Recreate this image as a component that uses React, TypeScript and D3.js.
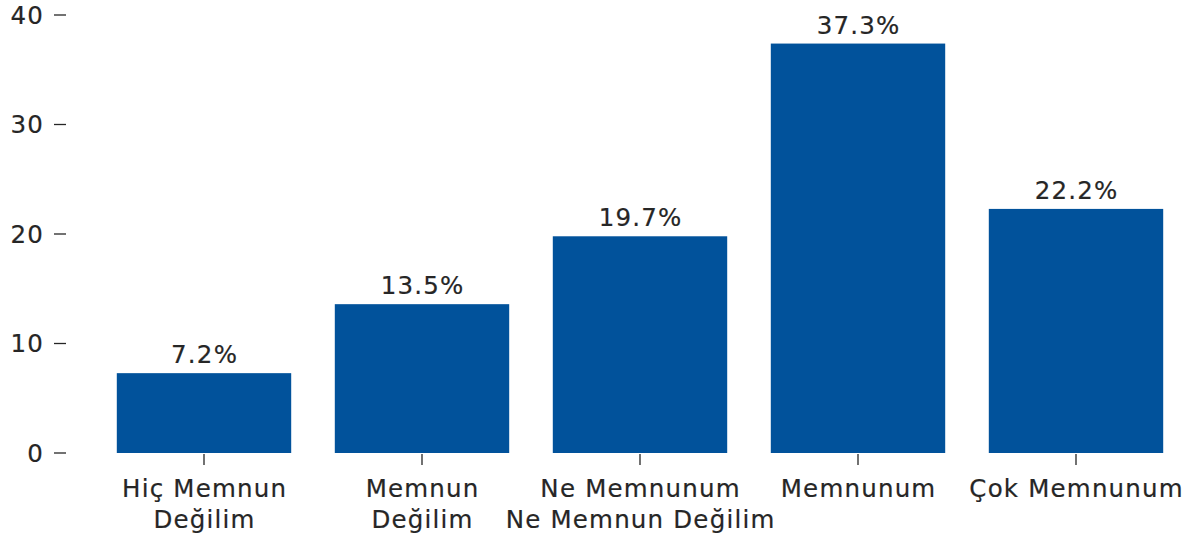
import React from "react";
import * as d3 from "d3";

const categories: string[][] = [
  ["Hiç Memnun", "Değilim"],
  ["Memnun", "Değilim"],
  ["Ne Memnunum", "Ne Memnun Değilim"],
  ["Memnunum"],
  ["Çok Memnunum"],
];
const values: number[] = [7.2, 13.5, 19.7, 37.3, 22.2];
const yTicks: number[] = [0, 10, 20, 30, 40];

const W = 1192;
const H = 541;
const FONT = "DejaVu Sans, sans-serif";
const TEXT = "#262626";
const BAR = "#01529B";
const LS = 1.2;
const FS = 24.5;

export default function App() {
  const keys = categories.map((c) => c.join(" "));
  const x = d3.scaleBand<string>().domain(keys).range([95, 1185]).paddingInner(0.2).paddingOuter(0.1);
  const y = d3.scaleLinear().domain([0, 40]).range([453, 15]);
  const axisX = 66;
  const textProps = { fontSize: FS, fill: TEXT, letterSpacing: LS, stroke: TEXT, strokeWidth: 0.2 };
  return (
    <svg width={W} height={H} style={{ position: "absolute", left: 0, top: 0 }} fontFamily={FONT}>
      <rect width={W} height={H} fill="#fff" />
      {yTicks.map((t) => (
        <g key={t}>
          <line x1={axisX - 12} x2={axisX} y1={y(t)} y2={y(t)} stroke={TEXT} strokeWidth={1.3} />
          <text x={axisX - 22} y={y(t)} dy="0.36em" textAnchor="end" {...textProps}>
            {t}
          </text>
        </g>
      ))}
      {values.map((v, i) => {
        const k = keys[i];
        const x0 = x(k)!;
        const cx = x0 + x.bandwidth() / 2;
        return (
          <g key={k}>
            <rect x={x0} y={y(v) - 1} width={x.bandwidth()} height={y(0) - y(v) + 1} fill={BAR} />
            <text x={cx + LS / 2} y={y(v) - 11} textAnchor="middle" {...textProps}>
              {v.toFixed(1)}%
            </text>
            <line x1={cx} x2={cx} y1={y(0) + 1} y2={y(0) + 12} stroke={TEXT} strokeWidth={1.3} />
            {categories[i].map((line, j) => (
              <text key={j} x={cx + LS / 2} y={497 + j * 31} textAnchor="middle" {...textProps}>
                {line}
              </text>
            ))}
          </g>
        );
      })}
    </svg>
  );
}
